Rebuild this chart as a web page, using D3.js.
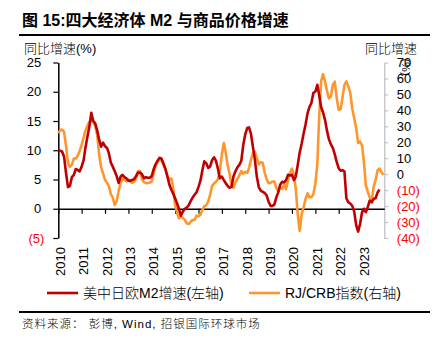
<!DOCTYPE html>
<html>
<head>
<meta charset="utf-8">
<script src="https://cdn.jsdelivr.net/npm/d3@7/dist/d3.min.js"></script>
<style>
  body { margin: 0; background: #fff; }
  svg { display: block; }
  text { font-family: "Liberation Sans", Arial, "Noto Sans CJK SC", sans-serif; }
  .cjk { font-family: "Liberation Sans", "Noto Sans CJK SC", sans-serif; }
</style>
</head>
<body>
<svg></svg>
<script>
// Monthly series, first point = Jan 2010
const startMonth = "2010-01";

// 美中日欧M2增速 (%), left axis
const m2Growth = [
  9.9, 9.9, 9.8, 8.9, 6.2, 3.7, 3.9, 5.4, 5.8, 6.8, 6.6, 6.4,
  7.2, 8.3, 10.4, 12.3, 14.0, 16.4, 15.0, 14.6, 13.4, 11.8, 10.6, 11.3,
  10.7, 10.4, 9.5, 7.9, 7.2, 6.4, 5.6, 4.4, 5.5, 5.8, 5.4, 5.2,
  4.8, 4.8, 4.9, 5.1, 5.6, 6.2, 6.2, 5.9, 5.2, 5.4, 5.3, 5.3,
  5.6, 6.8, 7.6, 8.2, 8.7, 8.6, 7.7, 6.8, 5.6, 4.2, 3.3, 2.6,
  1.8, 0.9, 0.0, -1.2, -0.5, 0.0, 0.2, 0.6, 1.3, 1.9, 2.4, 2.8,
  3.7, 4.8, 6.5, 8.1, 7.8, 7.0, 7.2, 8.3, 8.8, 8.2, 6.8, 5.2,
  5.5, 4.9, 4.4, 3.9, 3.6, 3.7, 5.5, 6.4, 7.1, 7.5, 8.2, 10.9,
  12.7, 13.8, 13.9, 12.8, 10.6, 8.4, 5.5, 3.7, 3.1, 2.9, 2.7, 2.3,
  1.2, 0.5, 0.5, 0.7, 1.9, 2.8, 4.1, 4.6, 4.5, 4.9, 5.8, 5.7,
  5.8, 4.9, 5.5, 7.5, 9.6, 11.1, 12.8, 14.4, 16.3, 17.4, 18.1, 19.8,
  20.0, 21.2, 19.5, 17.4, 16.5, 15.2, 13.4, 11.9, 11.0, 10.4, 9.3, 8.0,
  6.9, 6.5, 6.6, 6.4, 1.8, 1.1, 0.9, 0.5, -0.5, -2.8, -3.9, -2.6,
  -0.6, 0.0, -0.6, 0.3, 1.4, 1.1, 1.7, 1.8, 2.8, 3.3
];

// RJ/CRB指数同比 (%), right axis
const crbGrowth = [
  25.7, 27.5, 28.0, 26.5, 18.0, 7.0, 4.5, 6.0, 9.8, 9.8, 11.5, 14.5,
  18.5, 23.0, 27.3, 30.5, 32.8, 33.4, 33.0, 30.3, 24.5, 12.5, 4.5, 0.5,
  -3.6, -5.3, -7.5, -12.5, -14.6, -19.3, -17.0, -10.5, -5.5, -2.8, -3.6, -4.4,
  -3.6, -4.8, -5.4, -4.6, -2.8, 2.0, 2.0, -3.3, -5.0, -5.6, -5.6, -5.2,
  -4.6, 0.6, 4.9, 7.5, 8.8, 9.0, 7.3, 3.8, -1.0, -3.6, -2.6, -8.5,
  -19.3, -24.3, -27.6, -26.6, -27.4, -28.6, -30.8, -31.3, -29.8, -28.7, -28.7, -26.0,
  -26.4, -25.4, -22.5, -20.1, -19.5, -17.0, -13.0, -7.3, -5.8, -4.8, -3.0, 2.5,
  12.5, 19.5, 14.0, 5.5, 0.5, -7.0, -8.5, -5.0, -3.0, -0.6, 2.0, 0.3,
  1.5, 0.8, 3.8, 9.0, 13.2, 14.2, 10.0, 6.2, 7.5, 7.2, 1.0, -3.0,
  -5.6, -5.4, -4.6, -4.6, -8.5, -10.9, -8.5, -9.2, -6.5, -9.5, -3.6, 0.6,
  3.5, -0.5, -9.0, -25.0, -35.5, -25.0, -21.0, -15.5, -12.0, -14.5, -14.5, -12.5,
  -6.0, 6.0, 35.0, 58.0, 62.7, 58.0, 52.5, 47.5, 48.5, 56.0, 58.0, 47.7,
  40.3, 40.8, 48.0, 56.0, 58.1, 55.0, 51.0, 41.0, 35.0, 29.0, 19.5, 20.5,
  18.0, 7.0, -7.0, -11.0, -14.5, -16.5, -8.0, -3.6, 2.5, 3.5, 1.2, -0.4
];

const years = d3.range(2010, 2024);
const leftTicks = [-5, 0, 5, 10, 15, 20, 25];
const rightTicks = [-40, -30, -20, -10, 0, 10, 20, 30, 40, 50, 60, 70];

const width = 434;
const height = 348;
const plot = { left: 58.3, right: 384.3, top: 62.5, bottom: 238 };

const red = "#c00000";
const orange = "#ff962d";
const negRed = "#ff0000";

const svg = d3.select("svg").attr("width", width).attr("height", height);

const parseMonth = d3.timeParse("%Y-%m");
const t0 = parseMonth(startMonth);
const monthDate = (i) => d3.timeMonth.offset(t0, i);

const x = d3.scaleTime()
  .domain([t0, new Date(2023, 11, 15)])
  .range([plot.left, plot.right]);
const yL = d3.scaleLinear().domain([-5, 25]).range([plot.bottom, plot.top]);
const yR = d3.scaleLinear().domain([-40, 70]).range([plot.bottom, plot.top]);

const fmt = (d) => (d < 0 ? `(${-d})` : `${d}`);

// Title and rules
svg.append("text")
  .attr("class", "cjk")
  .attr("x", 22)
  .attr("y", 26)
  .style("font-size", "16px")
  .style("font-weight", "bold")
  .text("图 15:四大经济体 M2 与商品价格增速");

svg.append("line")
  .attr("x1", 19).attr("x2", 430)
  .attr("y1", 35).attr("y2", 35)
  .attr("stroke", "#000").attr("stroke-width", 2);

svg.append("text")
  .attr("class", "cjk")
  .attr("x", 24).attr("y", 53)
  .style("font-size", "13px")
  .style("font-weight", "300")
  .text("同比增速(%)");

svg.append("text")
  .attr("class", "cjk")
  .attr("x", 417).attr("y", 53)
  .attr("text-anchor", "end")
  .style("font-size", "13px")
  .style("font-weight", "300")
  .text("同比增速");

// Left axis
const leftAxis = svg.append("g")
  .attr("transform", `translate(${plot.left},0)`)
  .call(d3.axisLeft(yL).tickValues(leftTicks).tickSize(5).tickSizeOuter(0).tickFormat(fmt));
leftAxis.select(".domain").attr("stroke", "#000").attr("stroke-width", 1.5);
leftAxis.selectAll(".tick line").attr("stroke", "#000").attr("stroke-width", 1.2);
leftAxis.selectAll(".tick text")
  .attr("x", (d) => (d < 0 ? -14 : -17))
  .attr("fill", (d) => (d < 0 ? negRed : "#000"))
  .style("font-size", "13px");

// Right axis
const rightAxis = svg.append("g")
  .attr("transform", `translate(${plot.right},0)`)
  .call(d3.axisRight(yR).tickValues(rightTicks).tickSize(4).tickSizeOuter(0).tickFormat(fmt));
rightAxis.select(".domain").attr("stroke", "#bdbdbd").attr("stroke-width", 1.2);
rightAxis.selectAll(".tick line").attr("stroke", "#bdbdbd");
rightAxis.selectAll(".tick text")
  .attr("x", 12.5)
  .attr("fill", (d) => (d < 0 ? negRed : "#000"))
  .style("font-size", "13px");

svg.append("text")
  .attr("transform", "translate(406,67) rotate(90)")
  .attr("text-anchor", "middle")
  .attr("dy", "0.35em")
  .style("font-size", "11px")
  .text("(%)");

// Zero line with year ticks
const zeroAxis = svg.append("g")
  .attr("transform", `translate(0,${yL(0)})`)
  .call(d3.axisBottom(x)
    .tickValues(years.map((yr) => new Date(yr, 0, 1)))
    .tickSize(5).tickSizeOuter(0).tickFormat(""));
zeroAxis.select(".domain").attr("stroke", "#000").attr("stroke-width", 1.5);
zeroAxis.selectAll(".tick line").attr("stroke", "#000").attr("stroke-width", 1.2);

// Year labels under the plot
const yearAxis = svg.append("g")
  .attr("transform", `translate(1.5,${plot.bottom + 2})`)
  .call(d3.axisBottom(x)
    .tickValues(years.map((yr) => new Date(yr, 0, 1)))
    .tickSize(0).tickFormat(d3.timeFormat("%Y")));
yearAxis.select(".domain").remove();
yearAxis.selectAll(".tick text")
  .attr("transform", "rotate(-90)")
  .attr("x", -7)
  .attr("y", 0)
  .attr("dy", "0.35em")
  .attr("text-anchor", "end")
  .attr("fill", "#000")
  .style("font-size", "13px");

// Series lines
const lineR = d3.line()
  .x((d, i) => x(monthDate(i)))
  .y((d) => yR(d));
const lineL = d3.line()
  .x((d, i) => x(monthDate(i)))
  .y((d) => yL(d));

svg.append("path")
  .datum(crbGrowth)
  .attr("fill", "none")
  .attr("stroke", orange)
  .attr("stroke-width", 2.6)
  .attr("stroke-linejoin", "round")
  .attr("d", lineR);

svg.append("path")
  .datum(m2Growth)
  .attr("fill", "none")
  .attr("stroke", red)
  .attr("stroke-width", 2.6)
  .attr("stroke-linejoin", "round")
  .attr("d", lineL);

// Legend
const legend = svg.append("g").attr("transform", "translate(0,293)");
const legendItems = [
  { label: "美中日欧M2增速(左轴)", color: red, x: 47 },
  { label: "RJ/CRB指数(右轴)", color: orange, x: 249 }
];
legendItems.forEach((item) => {
  legend.append("line")
    .attr("x1", item.x).attr("x2", item.x + 31)
    .attr("y1", 0).attr("y2", 0)
    .attr("stroke", item.color).attr("stroke-width", 2.6);
  legend.append("text")
    .attr("class", "cjk")
    .attr("x", item.x + 36)
    .attr("y", 0)
    .attr("dy", "0.36em")
    .style("font-size", "14px")
    .style("font-weight", "300")
    .text(item.label);
});

// Source note
svg.append("line")
  .attr("x1", 19).attr("x2", 430)
  .attr("y1", 312).attr("y2", 312)
  .attr("stroke", "#000").attr("stroke-width", 2);

svg.append("text")
  .attr("class", "cjk")
  .attr("x", 22).attr("y", 328)
  .style("font-size", "11.5px")
  .style("font-weight", "300")
  .style("letter-spacing", "1px")
  .text("资料来源： 彭博, Wind, 招银国际环球市场");
</script>
</body>
</html>
